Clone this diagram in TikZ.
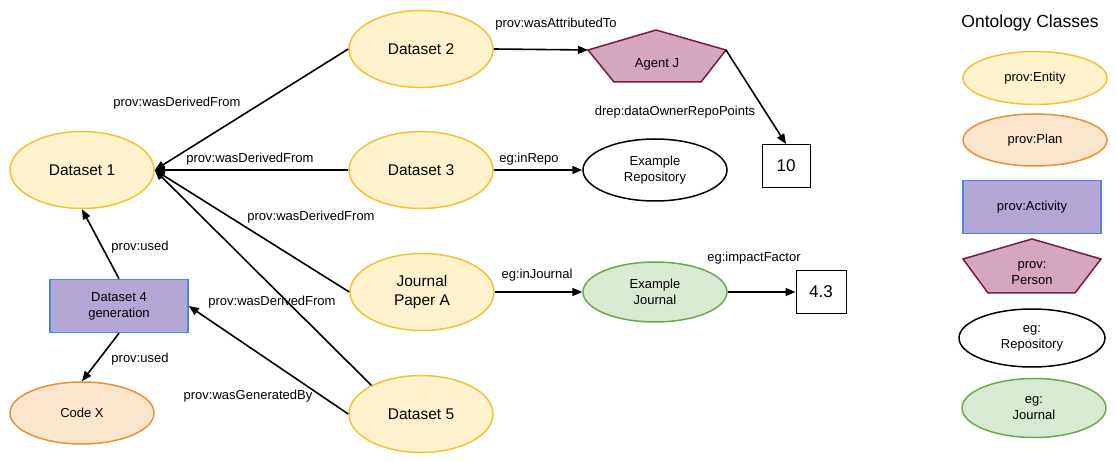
\documentclass[tikz,border=0pt]{standalone}
\usepackage{fontspec}
\setmainfont{Liberation Sans}
\usetikzlibrary{shapes.geometric,arrows.meta}

\definecolor{entityfill}{HTML}{FFF2CC}
\definecolor{entityline}{HTML}{F1C232}
\definecolor{planfill}{HTML}{FCE5CD}
\definecolor{planline}{HTML}{E69138}
\definecolor{activityfill}{HTML}{B4A7D6}
\definecolor{activityline}{HTML}{4A86E8}
\definecolor{personfill}{HTML}{D5A6BD}
\definecolor{personline}{HTML}{741B47}
\definecolor{journalfill}{HTML}{D9EAD3}
\definecolor{journalline}{HTML}{6AA84F}

\tikzset{
  small/.style={font=\fontsize{13}{16}\selectfont},
  big/.style={font=\fontsize{15.5}{19}\selectfont},
  entity/.style={ellipse, draw=entityline, fill=entityfill, line width=1.5pt,
    minimum width=144pt, minimum height=77pt, inner sep=0pt, align=center, big},
  plan/.style={ellipse, draw=planline, fill=planfill, line width=1.5pt,
    minimum width=144pt, minimum height=62pt, inner sep=0pt, align=center, small},
  activity/.style={rectangle, draw=activityline, fill=activityfill, line width=1.5pt,
    minimum width=138pt, minimum height=53pt, inner sep=0pt, align=center, small},
  repository/.style={ellipse, draw=black, fill=white, line width=1.5pt,
    minimum width=144pt, minimum height=62pt, inner sep=0pt, align=center, small},
  journal/.style={ellipse, draw=journalline, fill=journalfill, line width=1.5pt,
    minimum width=144pt, minimum height=60pt, inner sep=0pt, align=center, small},
  person/.style={draw=personline, fill=personfill, line width=1.5pt, line join=miter},
  valbox/.style={rectangle, draw=black, line width=1pt, minimum width=48pt,
    minimum height=43pt, inner sep=0pt, font=\fontsize{17}{20}\selectfont},
  lbl/.style={inner sep=0pt, small},
  conn/.style={line width=1.6pt, -{Triangle[length=10pt,width=8pt]}}
}

\begin{document}
\begin{tikzpicture}[x=1pt,y=-1pt]
  \useasboundingbox (0,0) rectangle (1117,462);

  % instances
  \node[entity] (ds1) at (82,170) {Dataset 1};
  \node[entity] (ds2) at (421,49) {Dataset 2};
  \node[entity] (ds3) at (421,170) {Dataset 3};
  \node[entity] (jpa) at (422,292) {Journal\\Paper A};
  \node[entity] (ds5) at (421,414) {Dataset 5};
  \node[activity] (ds4) at (119,306) {Dataset 4\\generation};
  \node[plan] (codex) at (82,413) {Code X};
  \node[repository] (repo) at (655,170) {Example\\Repository};
  \node[journal] (ejournal) at (655,292) {Example\\Journal};
  \node[valbox] (val10) at (786,166) {10};
  \node[valbox, minimum width=50pt] (val43) at (821,292) {4.3};

  \draw[person] (656,30) -- (726,50) -- (701,82) -- (614,82) -- (588,50) -- cycle;
  \coordinate (agentW) at (588,50);
  \coordinate (agentE) at (726,50);
  \node[small] (agent) at (657,64) {Agent J};

  \path[conn]
  (ds2.west) edge (ds1.east)
  (ds3.west) edge (ds1.east)
  (jpa.west) edge (ds1.east)
  (ds5.150) edge (ds1.east)
  (ds5.west) edge (ds4.east)
  (ds4.north) edge (ds1.south)
  (ds4.south) edge (codex.north)
  (ds2.east) edge (agentW)
  (agentE) edge (val10.north)
  (ds3.east) edge (repo.west)
  (jpa.east) edge (ejournal.west)
  (ejournal.east) edge (val43.west)
  ;

  % edge labels
  \node[lbl] (lblDer2) at (177,103) {prov:wasDerivedFrom};
  \node[lbl] (lblDer3) at (250,159) {prov:wasDerivedFrom};
  \node[lbl] (lblDerJ) at (311,217) {prov:wasDerivedFrom};
  \node[lbl] (lblDer5) at (272,302) {prov:wasDerivedFrom};
  \node[lbl] (lblGen) at (248,396) {prov:wasGeneratedBy};
  \node[lbl] (lblUsed1) at (140,247) {prov:used};
  \node[lbl] (lblUsed2) at (140,359) {prov:used};
  \node[lbl] (lblAttr) at (556,24) {prov:wasAttributedTo};
  \node[lbl] (lblPoints) at (675,112) {drep:dataOwnerRepoPoints};
  \node[lbl] (lblRepo) at (529,159) {eg:inRepo};
  \node[lbl] (lblJournal) at (537,275) {eg:inJournal};
  \node[lbl] (lblImpact) at (754,258) {eg:impactFactor};

  % legend
  \node[font=\fontsize{17.5}{21}\selectfont] (legtitle) at (1030,23) {Ontology Classes};
  \node[entity, small, minimum height=53pt] (legentity) at (1035,78) {prov:Entity};
  \node[plan, minimum height=52pt] (legplan) at (1035,140) {prov:Plan};
  \node[activity] (legactivity) at (1032,207) {prov:Activity};
  \draw[person] (1032,239) -- (1101,259) -- (1075,293) -- (988,293) -- (963,259) -- cycle;
  \node[small, align=center] (legperson) at (1032,273) {prov:\\Person};
  \node[repository, minimum width=146pt, minimum height=58pt] (legrepo) at (1032,338) {eg:\\Repository};
  \node[journal, minimum height=59pt] (legjournal) at (1034,408) {eg:\\Journal};
\end{tikzpicture}
\end{document}
